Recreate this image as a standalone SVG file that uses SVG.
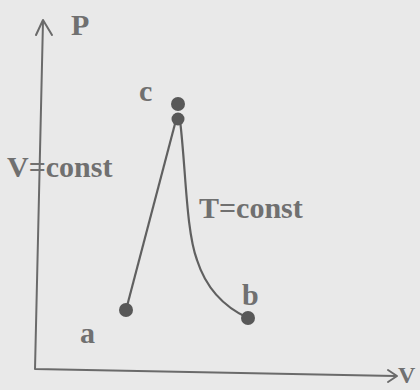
<svg xmlns="http://www.w3.org/2000/svg" width="420" height="390" viewBox="0 0 420 390">
<style>
.ax{fill:none;stroke:#6a6a6a;stroke-width:2;stroke-linecap:round;stroke-linejoin:round}
.cv{fill:none;stroke:#606060;stroke-width:2.2}
.pt{fill:#585858}
.lb{font-family:"Liberation Serif",serif;font-weight:bold;font-size:30px;fill:#707070}
</style>
<rect width="420" height="390" fill="#e9e9e9"/>
<g id="axes">
<path class="ax" d="M43 21 L35 369 L395 376"/>
<path class="ax" d="M36 35 L43 20 L52 35"/>
<path class="ax" d="M388 370 L397 376 L388 382"/>
<text class="lb" x="398" y="383" style="font-size:24px">V</text>
<text class="lb" x="71" y="35">P</text>
</g>
<g id="connectors">
<path class="cv" d="M126 310 L176 120"/>
<path class="cv" d="M180 120 C186 170 186 230 197 260 C205 285 222 306 248 318"/>
</g>
<g id="node-a"><circle class="pt" cx="126" cy="310" r="7"/><text class="lb" x="80" y="343">a</text></g>
<g id="node-b"><circle class="pt" cx="248" cy="318" r="7"/><text class="lb" x="242" y="305">b</text></g>
<g id="node-c"><circle class="pt" cx="178" cy="104" r="7"/><circle class="pt" cx="178" cy="119" r="6.5"/><text class="lb" x="139" y="101">c</text></g>
<g id="labels">
<text class="lb" x="7" y="177">V=const</text>
<text class="lb" x="199" y="218">T=const</text>
</g>
</svg>
